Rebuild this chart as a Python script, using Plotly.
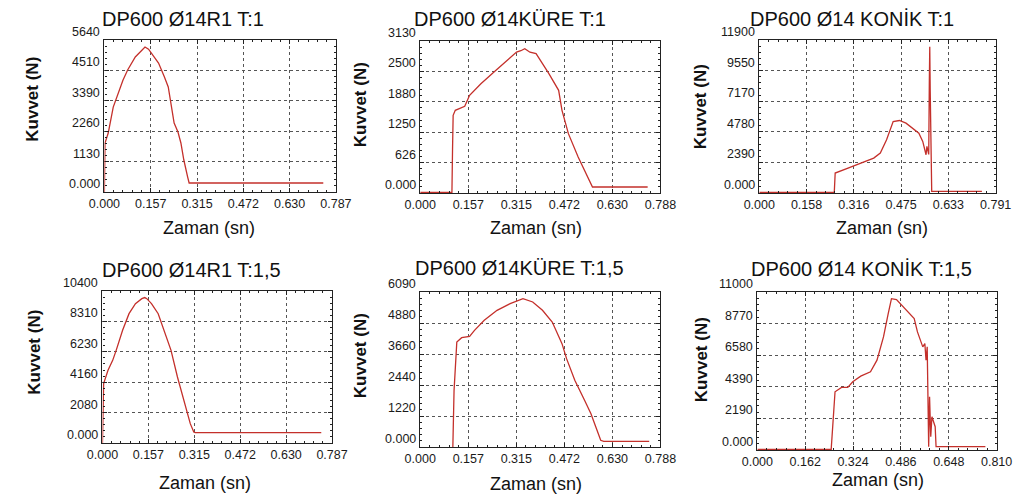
import plotly.graph_objects as go

# the page body keeps an 8px margin, so the figure is sized to fill the rest of the window
OFF = 8
W, H = 1032 - OFF, 499 - OFF

# ---------------- data ----------------
titles = ["DP600 Ø14R1 T:1", "DP600 Ø14KÜRE T:1", "DP600 Ø14 KONİK T:1",
          "DP600 Ø14R1 T:1,5", "DP600 Ø14KÜRE T:1,5", "DP600 Ø14 KONİK T:1,5"]

x_max = [0.787, 0.788, 0.791, 0.787, 0.788, 0.810]
y_max = [5640, 3130, 11900, 10400, 6090, 11000]

x_ticktext = [
    ["0.000", "0.157", "0.315", "0.472", "0.630", "0.787"],
    ["0.000", "0.157", "0.315", "0.472", "0.630", "0.788"],
    ["0.000", "0.158", "0.316", "0.475", "0.633", "0.791"],
    ["0.000", "0.157", "0.315", "0.472", "0.630", "0.787"],
    ["0.000", "0.157", "0.315", "0.472", "0.630", "0.788"],
    ["0.000", "0.162", "0.324", "0.486", "0.648", "0.810"],
]
y_ticktext = [
    ["0.000", "1130", "2260", "3390", "4510", "5640"],
    ["0.000", "626", "1250", "1880", "2500", "3130"],
    ["0.000", "2390", "4780", "7170", "9550", "11900"],
    ["0.000", "2080", "4160", "6230", "8310", "10400"],
    ["0.000", "1220", "2440", "3660", "4880", "6090"],
    ["0.000", "2190", "4390", "6580", "8770", "11000"],
]

t_r1_t1 = [0, 0.001, 0.002, 0.013, 0.03, 0.063, 0.079, 0.105, 0.125, 0.138, 0.15, 0.171,
           0.184, 0.204, 0.217, 0.237, 0.250, 0.260, 0.270, 0.283, 0.288, 0.744]
f_r1_t1 = [0, 900, 1818, 2189, 3150, 4150, 4527, 5009, 5250, 5380, 5300, 4972,
           4785, 4267, 3896, 2560, 2226, 1818, 1187, 556, 334, 334]

t_kure_t1 = [0, 0.104, 0.106, 0.108, 0.115, 0.146, 0.162, 0.199, 0.242, 0.284, 0.316, 0.33,
             0.343, 0.36, 0.380, 0.422, 0.454, 0.465, 0.486, 0.518, 0.544, 0.560, 0.565, 0.746]
f_kure_t1 = [10, 10, 900, 1599, 1702, 1785, 2011, 2251, 2492, 2732, 2903, 2930,
             2972, 2900, 2869, 2457, 2114, 1702, 1222, 741, 398, 158, 124, 124]

t_konik_t1 = [0, 0.251, 0.254, 0.270, 0.297, 0.340, 0.383, 0.405, 0.426, 0.448, 0.469, 0.491,
              0.513, 0.534, 0.547, 0.554, 0.558, 0.561, 0.564, 0.567, 0.569, 0.5705, 0.572,
              0.574, 0.577, 0.745]
f_konik_t1 = [50, 50, 1552, 1681, 1940, 2328, 2716, 3104, 4139, 5562, 5640, 5433,
              5045, 4657, 4010, 3234, 2975, 3622, 3234, 3000, 8537, 11383, 8000,
              3000, 129, 129]

t_r1_t15 = [0, 0.002, 0.004, 0.019, 0.035, 0.047, 0.069, 0.091, 0.113, 0.135, 0.145, 0.152,
            0.168, 0.191, 0.213, 0.235, 0.257, 0.279, 0.301, 0.313, 0.318, 0.750]
f_r1_t15 = [0, 2000, 4060, 4972, 5656, 6340, 7709, 8849, 9533, 9875, 9950, 9875,
            9533, 8849, 7595, 6340, 4516, 2919, 1323, 753, 707, 707]

t_kure_t15 = [0.107, 0.111, 0.120, 0.136, 0.162, 0.178, 0.210, 0.252, 0.295, 0.337, 0.369,
              0.401, 0.433, 0.465, 0.480, 0.507, 0.539, 0.560, 0.576, 0.592, 0.602, 0.751]
f_kure_t15 = [0, 2226, 4125, 4296, 4348, 4584, 4977, 5370, 5632, 5828, 5697,
              5370, 4911, 4060, 3471, 2619, 1834, 1310, 786, 262, 223, 223]

t_konik_t15 = [0, 0.250, 0.263, 0.285, 0.306, 0.323, 0.350, 0.383, 0.405, 0.427, 0.443, 0.454,
               0.471, 0.493, 0.514, 0.531, 0.542, 0.553, 0.560, 0.567, 0.571, 0.575, 0.578,
               0.580, 0.583, 0.587, 0.591, 0.597, 0.602, 0.605, 0.772]
f_konik_t15 = [46, 46, 4053, 4354, 4354, 4747, 5141, 5442, 6253, 7874, 9495, 10537,
               10467, 9958, 9495, 9147, 8221, 7642, 7179, 7411, 6253, 7179, 2779,
               232, 3705, 926, 2316, 1853, 1621, 232, 232]

series_t = [t_r1_t1, t_kure_t1, t_konik_t1, t_r1_t15, t_kure_t15, t_konik_t15]
series_f = [f_r1_t1, f_kure_t1, f_konik_t1, f_r1_t15, f_kure_t15, f_konik_t15]

# ---------------- layout (screen-pixel boxes of each panel) ----------------
boxes = [(91, 330, 40, 192), (417, 665, 41, 193), (767, 1011, 40, 193),
         (89, 326, 291, 443), (417, 665, 292, 447), (765, 1012, 292, 450)]
title_pos = [(172, 19), (510, 19), (863, 19), (181, 270), (519, 268), (873, 269)]
ytitle_pos = [(17, 99), (355, 105), (707, 107), (18, 352), (355, 356), (707, 360)]
xtitle_pos = [(199, 228), (537, 228), (894, 228), (195, 483), (536, 484), (890, 480)]

FONT = "Liberation Sans, Arial, sans-serif"
LINE_COLOR = "#c4302b"
TICKFONT = dict(family=FONT, size=12.5, color="#1a1a1a")

def px(x):
    return (x - OFF) / W

def py(y):
    return 1 - (y - OFF) / H

fig = go.Figure()
annotations = []
for i in range(6):
    n = "" if i == 0 else str(i + 1)
    fig.add_trace(go.Scatter(x=series_t[i], y=series_f[i], mode="lines",
                             line=dict(color=LINE_COLOR, width=1.3),
                             xaxis="x" + n, yaxis="y" + n, showlegend=False,
                             hoverinfo="skip"))
    x0, x1, y0, y1 = boxes[i]
    xm, ym = x_max[i], y_max[i]
    common = dict(showline=True, linecolor="#222", linewidth=1.2, mirror="ticks",
                  ticks="inside", ticklen=4, tickcolor="#222",
                  showgrid=True, gridcolor="#555", griddash="dot", gridwidth=1,
                  zeroline=False, tickmode="array", tickfont=TICKFONT)
    fig.layout["xaxis" + n] = dict(
        common, domain=[px(x0), px(x1)], anchor="y" + n, range=[0, xm],
        tickvals=[k * xm / 5 for k in range(6)], ticktext=x_ticktext[i],
        minor=dict(ticks="inside", ticklen=2, tickcolor="#222", tickmode="array",
                   tickvals=[k * xm / 25 for k in range(26)], showgrid=False))
    fig.layout["yaxis" + n] = dict(
        common, domain=[py(y1), py(y0)], anchor="x" + n, range=[0, ym],
        tickvals=[k * ym / 5 for k in range(6)], showticklabels=False,
        minor=dict(ticks="inside", ticklen=2, tickcolor="#222", tickmode="array",
                   tickvals=[k * ym / 25 for k in range(26)], showgrid=False))
    # y tick labels: drawn a little above their grid lines, as in the original
    for k, lab in enumerate(y_ticktext[i]):
        annotations.append(dict(text=lab, xref="x" + n + " domain", x=0, xanchor="right",
                                xshift=-2, yref="y" + n, y=k * ym / 5, yanchor="middle",
                                yshift=8, showarrow=False, font=TICKFONT))
    tx, ty = title_pos[i]
    annotations.append(dict(text=titles[i], x=px(tx), y=py(ty), xref="paper", yref="paper",
                            showarrow=False, xanchor="center", yanchor="middle",
                            font=dict(family=FONT, size=20, color="#111")))
    ax, ay = ytitle_pos[i]
    annotations.append(dict(text="<b>Kuvvet (N)</b>", x=px(ax), y=py(ay), xref="paper",
                            yref="paper", showarrow=False, textangle=-90,
                            xanchor="center", yanchor="middle",
                            font=dict(family=FONT, size=17, color="#111")))
    bx, by = xtitle_pos[i]
    annotations.append(dict(text="Zaman (sn)", x=px(bx), y=py(by), xref="paper",
                            yref="paper", showarrow=False, xanchor="center",
                            yanchor="middle",
                            font=dict(family=FONT, size=18, color="#111")))

fig.update_layout(width=W, height=H, margin=dict(l=0, r=0, t=0, b=0),
                  paper_bgcolor="white", plot_bgcolor="white",
                  annotations=annotations, showlegend=False)

fig.write_html("out.html")
